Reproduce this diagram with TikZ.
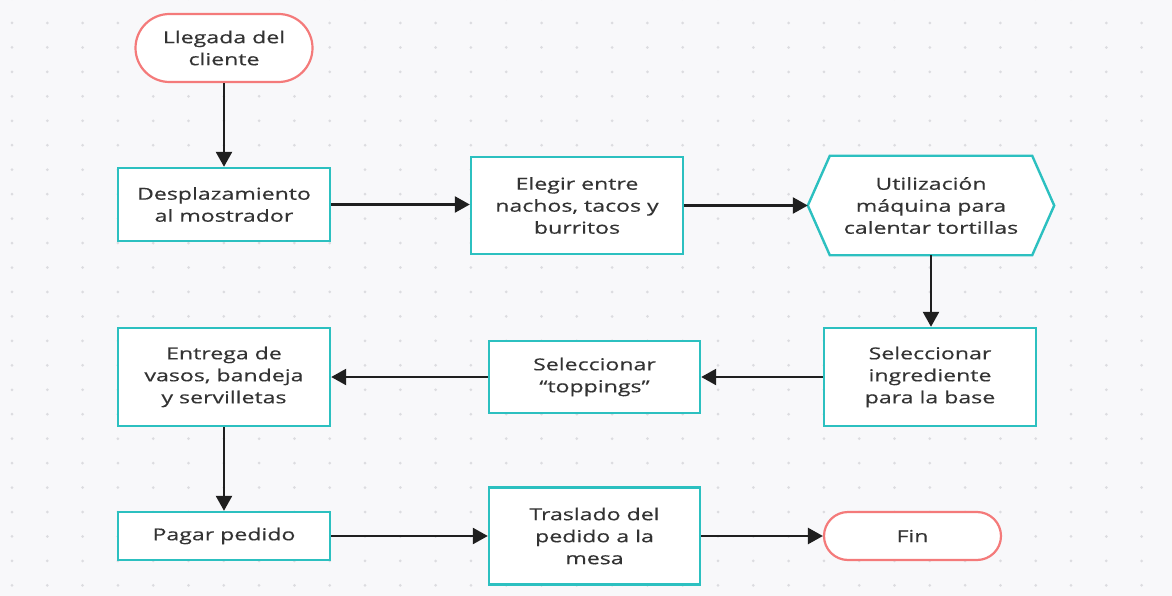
\documentclass[tikz,border=0pt]{standalone}
\usepackage{fontspec}
\setmainfont[FakeStretch=1.4,FakeBold=0.4]{Open Sans}
\usetikzlibrary{arrows.meta,shapes.misc}
\definecolor{bg}{HTML}{F8F8FA}
\definecolor{dotc}{HTML}{DCDCE0}
\definecolor{tealb}{HTML}{2CC0C0}
\definecolor{redb}{HTML}{F47A7A}
\definecolor{txt}{HTML}{333333}
\begin{document}
\begin{tikzpicture}[x=1pt,y=-1pt,
  lbl/.style={text=txt,align=center,font=\fontsize{16.5}{22}\selectfont,inner sep=0pt},
  box/.style={lbl,draw=tealb,line width=2.4pt,fill=white},
  term/.style={lbl,rounded rectangle,draw=redb,line width=2.2pt,fill=white},
  flow/.style={-{Triangle[length=15pt,width=16pt]},line width=2.5pt,black!88}
]
\useasboundingbox (0,0) rectangle (1172,596);
\fill[bg] (0,0) rectangle (1172,596);
\foreach \i in {0,...,33}{
  \foreach \j in {0,...,24}{
    \fill[dotc] ({12+35.3*\i},{-1.45+24.45*\j}) circle (1.5pt);
  }
}
% nodes
\node[term,minimum width=177pt,minimum height=68pt] (start) at (224,48) {Llegada del\\cliente};
\node[box,minimum width=212pt,minimum height=73pt] (desp) at (224,204.5) {Desplazamiento\\al mostrador};
\node[box,minimum width=212pt,minimum height=97pt] (eleg) at (577,205.5) {Elegir entre\\nachos, tacos y\\burritos};
\node[lbl,minimum width=246pt,minimum height=99pt] (maq) at (931,205.5) {};
\fill[white,draw=tealb,line width=2.4pt,line join=miter]
  (maq.west) -- ([xshift=22pt]maq.north west) -- ([xshift=-22pt]maq.north east)
  -- (maq.east) -- ([xshift=-22pt]maq.south east) -- ([xshift=22pt]maq.south west) -- cycle;
\node[lbl] at (maq.center) {Utilización\\máquina para\\calentar tortillas};
\node[box,minimum width=212pt,minimum height=98pt] (ingr) at (930,377) {Seleccionar\\ingrediente\\para la base};
\node[box,minimum width=211pt,minimum height=72pt] (topp) at (594.5,377) {Seleccionar\\“toppings”};
\node[box,minimum width=212pt,minimum height=98pt] (entr) at (224,377) {Entrega de\\vasos, bandeja\\y servilletas};
\node[box,minimum width=212pt,minimum height=48pt] (pagar) at (224,536) {Pagar pedido};
\node[box,minimum width=211pt,minimum height=97pt] (tras) at (594.5,536) {Traslado del\\pedido a la\\mesa};
\node[term,minimum width=177pt,minimum height=48pt] (fin) at (912.5,536) {Fin};
% connectors
\draw[flow] (start.south) -- (desp.north);
\draw[flow] (desp.east) -- (desp.east -| eleg.west);
\draw[flow] (eleg.east) -- (maq.west);
\draw[flow] (maq.south) -- (maq.south |- ingr.north);
\draw[flow] (ingr.west) -- (topp.east);
\draw[flow] (topp.west) -- (entr.east);
\draw[flow] (entr.south) -- (pagar.north);
\draw[flow] (pagar.east) -- (tras.west);
\draw[flow] (tras.east) -- (fin.west);
\end{tikzpicture}
\end{document}
